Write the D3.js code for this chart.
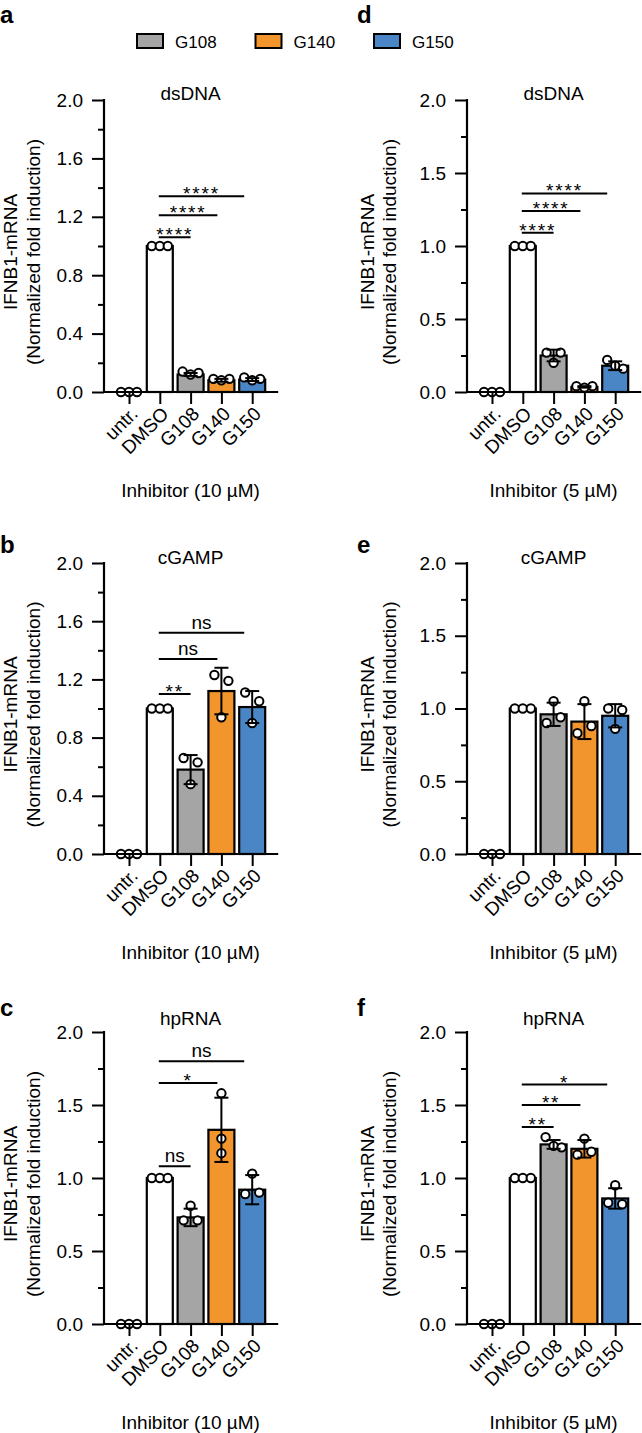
<!DOCTYPE html>
<html><head><meta charset="utf-8">
<script src="https://cdn.jsdelivr.net/npm/d3@7"></script>
<style>
body{margin:0;background:#fff}
svg{display:block}
text{font-family:"Liberation Sans",Arial,Helvetica,sans-serif;fill:#000}
</style>
</head><body>
<svg id="chart" width="642" height="1433"></svg>
<script>
// ---------------- data ----------------
const categories = ["untr.", "DMSO", "G108", "G140", "G150"];
const legendItems = ["G108", "G140", "G150"];
const panelLetters = ["a", "b", "c", "d", "e", "f"];
const stimuli = ["dsDNA", "cGAMP", "hpRNA", "dsDNA", "cGAMP", "hpRNA"];
const xTitles = ["Inhibitor (10 µM)", "Inhibitor (10 µM)", "Inhibitor (10 µM)",
                 "Inhibitor (5 µM)", "Inhibitor (5 µM)", "Inhibitor (5 µM)"];
const yLabelLines = ["IFNB1-mRNA", "(Normalized fold induction)"];
const ticks10Major = [0, 0.4, 0.8, 1.2, 1.6, 2.0];
const ticks10Minor = [0.2, 0.6, 1.0, 1.4, 1.8];
const ticks5Major = [0, 0.5, 1.0, 1.5, 2.0];
const ticks5Minor = [0.25, 0.75, 1.25, 1.75];

// panel a: dsDNA, 10 µM
const meansA = [0, 1.00, 0.12, 0.08, 0.085];
const pointsA = [[0, 0, 0], [1, 1, 1], [0.14, 0.12, 0.13], [0.09, 0.08, 0.09], [0.10, 0.08, 0.09]];
const errA = [0, 0, 0.01, 0.01, 0.01];
const sigA = [[1, 2, 1.06, "****"], [1, 3, 1.21, "****"], [1, 4, 1.34, "****"]];

// panel b: cGAMP, 10 µM
const meansB = [0, 1.00, 0.58, 1.12, 1.01];
const pointsB = [[0, 0, 0], [1, 1, 1], [0.66, 0.63, 0.48], [1.23, 1.19, 0.94], [1.11, 1.05, 0.90]];
const errB = [0, 0, 0.10, 0.16, 0.11];
const sigB = [[1, 2, 1.10, "**"], [1, 3, 1.34, "ns"], [1, 4, 1.52, "ns"]];

// panel c: hpRNA, 10 µM
const meansC = [0, 1.00, 0.73, 1.33, 0.92];
const pointsC = [[0, 0, 0], [1, 1, 1], [0.71, 0.81, 0.71], [1.58, 1.27, 1.17], [0.89, 1.03, 0.90]];
const errC = [0, 0, 0.06, 0.22, 0.10];
const sigC = [[1, 2, 1.08, "ns"], [1, 3, 1.65, "*"], [1, 4, 1.80, "ns"]];

// panel d: dsDNA, 5 µM
const meansD = [0, 1.00, 0.25, 0.035, 0.18];
const pointsD = [[0, 0, 0], [1, 1, 1], [0.27, 0.27, 0.20], [0.04, 0.03, 0.04], [0.22, 0.18, 0.16]];
const errD = [0, 0, 0.04, 0.005, 0.03];
const sigD = [[1, 2, 1.09, "****"], [1, 3, 1.24, "****"], [1, 4, 1.36, "****"]];

// panel e: cGAMP, 5 µM
const meansE = [0, 1.00, 0.96, 0.91, 0.95];
const pointsE = [[0, 0, 0], [1, 1, 1], [0.90, 1.05, 0.94], [0.83, 1.05, 0.88], [1.00, 0.99, 0.86]];
const errE = [0, 0, 0.08, 0.12, 0.08];
const sigE = [];

// panel f: hpRNA, 5 µM
const meansF = [0, 1.00, 1.23, 1.20, 0.86];
const pointsF = [[0, 0, 0], [1, 1, 1], [1.28, 1.22, 1.21], [1.16, 1.27, 1.18], [0.83, 0.95, 0.82]];
const errF = [0, 0, 0.03, 0.06, 0.07];
const sigF = [[1, 2, 1.35, "**"], [1, 3, 1.50, "**"], [1, 4, 1.64, "*"]];

// ---------------- styles / layout ----------------
const fills = {"untr.": "#ffffff", "DMSO": "#ffffff", "G108": "#a5a5a5", "G140": "#f3952d", "G150": "#4a86c6"};
const FONT = 19;
const colAxisX = [104, 467];
const rowTop = [100, 563, 1032];
const rowBottom = [392, 854, 1324];
const rowTitleY = [100, 564, 1025];
const letterX = [0, 357];
const letterY = [23, 553, 1016];
const yLabX = [[17, 40], [374, 396]];

const panels = [
  {means: meansA, pts: pointsA, err: errA, sig: sigA, major: ticks10Major, minor: ticks10Minor},
  {means: meansB, pts: pointsB, err: errB, sig: sigB, major: ticks10Major, minor: ticks10Minor},
  {means: meansC, pts: pointsC, err: errC, sig: sigC, major: ticks5Major, minor: ticks5Minor},
  {means: meansD, pts: pointsD, err: errD, sig: sigD, major: ticks5Major, minor: ticks5Minor},
  {means: meansE, pts: pointsE, err: errE, sig: sigE, major: ticks5Major, minor: ticks5Minor},
  {means: meansF, pts: pointsF, err: errF, sig: sigF, major: ticks5Major, minor: ticks5Minor}
];

const svg = d3.select("#chart");

// legend
const legX = d3.scalePoint().domain(legendItems).range([137, 374]);
const leg = svg.append("g");
legendItems.forEach(k => {
  leg.append("rect").attr("x", legX(k)).attr("y", 34).attr("width", 26).attr("height", 14)
    .attr("fill", fills[k]).attr("stroke", "#000").attr("stroke-width", 2);
  leg.append("text").attr("x", legX(k) + 38).attr("y", 47.5).attr("font-size", 17).text(k);
});

panels.forEach((p, i) => {
  const col = Math.floor(i / 3), row = i % 3;
  const ax = colAxisX[col];
  const top = rowTop[row], bottom = rowBottom[row];
  const g = svg.append("g");

  const x = d3.scalePoint().domain(categories).range([ax + 25, ax + 25 + 4 * 30.8]);
  const y = d3.scaleLinear().domain([0, 2]).range([bottom, top]);
  const bw = 26;

  // panel letter
  g.append("text").attr("x", letterX[col]).attr("y", letterY[row])
    .attr("font-size", 24).attr("font-weight", "bold").text(panelLetters[i]);

  // title
  const midX = (x(categories[0]) + x(categories[4])) / 2;
  g.append("text").attr("x", midX).attr("y", rowTitleY[row]).attr("text-anchor", "middle")
    .attr("font-size", FONT).text(stimuli[i]);

  // bars
  g.selectAll("rect.bar").data(categories.map((c, j) => ({c, v: p.means[j]})).filter(d => d.v > 0))
    .join("rect")
    .attr("x", d => x(d.c) - bw / 2).attr("width", bw)
    .attr("y", d => y(d.v)).attr("height", d => y(0) - y(d.v))
    .attr("fill", d => fills[d.c]).attr("stroke", "#000").attr("stroke-width", 2.2);

  // points with simple overlap spreading
  categories.forEach((c, j) => {
    const vals = p.pts[j];
    const py = vals.map(v => y(v));
    const clusterId = vals.map((_, k) => k);
    for (let a = 0; a < vals.length; a++)
      for (let b = a + 1; b < vals.length; b++)
        if (Math.abs(py[a] - py[b]) < 10) {
          const from = clusterId[b], to = clusterId[a];
          for (let k = 0; k < clusterId.length; k++) if (clusterId[k] === from) clusterId[k] = to;
        }
    const offs = vals.map(() => 0);
    const groups = {};
    clusterId.forEach((cid, k) => { (groups[cid] = groups[cid] || []).push(k); });
    Object.values(groups).forEach(members => {
      const n = members.length;
      const step = n === 2 ? 14 : 8;
      members.forEach((k, m) => { offs[k] = (m - (n - 1) / 2) * step; });
    });
    vals.forEach((v, k) => {
      g.append("circle").attr("cx", x(c) + offs[k]).attr("cy", y(v)).attr("r", 4.2)
        .attr("fill", "#fff").attr("stroke", "#000").attr("stroke-width", 2);
    });
  });

  // error bars
  categories.forEach((c, j) => {
    const e = p.err[j];
    if (e <= 0) return;
    const m = p.means[j], cx = x(c);
    const eg = g.append("g").attr("stroke", "#000").attr("stroke-width", 2);
    eg.append("line").attr("x1", cx).attr("x2", cx).attr("y1", y(m - e)).attr("y2", y(m + e));
    [m - e, m + e].forEach(v => eg.append("line").attr("x1", cx - 7).attr("x2", cx + 7).attr("y1", y(v)).attr("y2", y(v)));
  });

  // y axis
  const yAxis = d3.axisLeft(y).tickValues(p.major).tickSize(12).tickPadding(9).tickFormat(d3.format(".1f"));
  const ya = g.append("g").attr("transform", `translate(${ax},0)`).call(yAxis);
  ya.select(".domain").remove();
  ya.selectAll("line").attr("stroke", "#000").attr("stroke-width", 2);
  ya.selectAll("text").attr("font-size", FONT).attr("font-family", "Liberation Sans, Arial, sans-serif");
  const yMinor = d3.axisLeft(y).tickValues(p.minor).tickSize(6).tickFormat("");
  const ym = g.append("g").attr("transform", `translate(${ax},0)`).call(yMinor);
  ym.select(".domain").remove();
  ym.selectAll("line").attr("stroke", "#000").attr("stroke-width", 2);
  g.append("line").attr("x1", ax).attr("x2", ax).attr("y1", top - 1).attr("y2", bottom + 1)
    .attr("stroke", "#000").attr("stroke-width", 2.2);

  // x axis
  const xAxis = d3.axisBottom(x).tickSize(12).tickFormat("");
  const xa = g.append("g").attr("transform", `translate(0,${bottom})`).call(xAxis);
  xa.select(".domain").remove();
  xa.selectAll("line").attr("stroke", "#000").attr("stroke-width", 2);
  g.append("line").attr("x1", ax - 1).attr("x2", x(categories[4]) + 26).attr("y1", bottom).attr("y2", bottom)
    .attr("stroke", "#000").attr("stroke-width", 2.2);
  categories.forEach(c => {
    g.append("text").attr("text-anchor", "end").attr("font-size", FONT)
      .attr("transform", `translate(${x(c) + 10},${bottom + 23}) rotate(-45)`).text(c);
  });

  // x title
  g.append("text").attr("x", midX).attr("y", bottom + 105).attr("text-anchor", "middle")
    .attr("font-size", FONT).text(xTitles[i]);

  // y label
  const yc = (top + bottom) / 2 + 6;
  yLabelLines.forEach((t, k) => {
    g.append("text").attr("text-anchor", "middle").attr("font-size", FONT)
      .attr("transform", `translate(${yLabX[col][k]},${yc}) rotate(-90)`).text(t);
  });

  // significance
  p.sig.forEach(([a, b, v, lab]) => {
    const x1 = x(categories[a]) - 1, x2 = x(categories[b]) - (b - a - 1) * 4;
    g.append("line").attr("x1", x1).attr("x2", x2).attr("y1", y(v)).attr("y2", y(v))
      .attr("stroke", "#000").attr("stroke-width", 2);
    const isStar = lab.indexOf("*") >= 0;
    g.append("text").attr("x", (x1 + x2) / 2).attr("y", y(v) + (isStar ? 4 : -4))
      .attr("text-anchor", "middle").attr("font-size", isStar ? 19 : FONT)
      .attr("letter-spacing", isStar ? 1.8 : 0).text(lab);
  });
});
</script>
</body></html>
